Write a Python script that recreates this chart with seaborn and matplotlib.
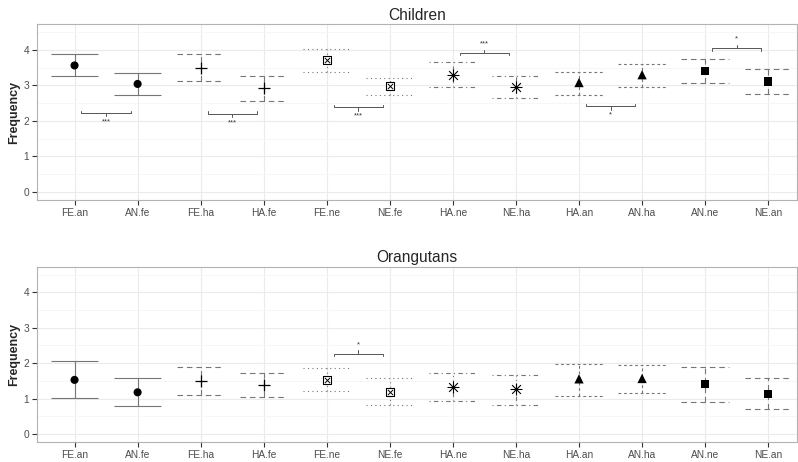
import numpy as np
import pandas as pd
import seaborn as sns
import matplotlib.pyplot as plt

# condition labels along the x axis and the pair each belongs to
categories = ["FE.an", "AN.fe", "FE.ha", "HA.fe", "FE.ne", "NE.fe",
              "HA.ne", "NE.ha", "HA.an", "AN.ha", "AN.ne", "NE.an"]
pairs = ["FE-AN", "FE-AN", "FE-HA", "FE-HA", "FE-NE", "FE-NE",
         "HA-NE", "HA-NE", "HA-AN", "HA-AN", "AN-NE", "AN-NE"]

# children: mean and interval bounds
children_mean = [3.56, 3.04, 3.50, 2.92, 3.70, 2.97, 3.30, 2.95, 3.08, 3.30, 3.41, 3.11]
children_low = [3.25, 2.74, 3.13, 2.56, 3.38, 2.73, 2.94, 2.64, 2.72, 2.94, 3.07, 2.76]
children_high = [3.87, 3.35, 3.89, 3.27, 4.03, 3.22, 3.66, 3.27, 3.38, 3.59, 3.73, 3.45]

# orangutans: mean and interval bounds
orang_mean = [1.53, 1.18, 1.49, 1.40, 1.54, 1.19, 1.32, 1.26, 1.56, 1.57, 1.41, 1.14]
orang_low = [1.01, 0.78, 1.10, 1.06, 1.21, 0.83, 0.93, 0.83, 1.08, 1.16, 0.92, 0.70]
orang_high = [2.06, 1.59, 1.89, 1.73, 1.87, 1.58, 1.72, 1.68, 1.97, 1.94, 1.89, 1.58]

# significance brackets: (first, second, height, label, side of label)
children_tests = [(0, 1, 2.22, "***", "below"),
                  (2, 3, 2.20, "***", "below"),
                  (4, 5, 2.38, "***", "below"),
                  (6, 7, 3.91, "***", "above"),
                  (8, 9, 2.41, "*", "below"),
                  (10, 11, 4.05, "*", "above")]
orang_tests = [(4, 5, 2.27, "*", "above")]

pair_dash = {"FE-AN": "-",
             "FE-HA": (0, (5, 3.5)),
             "FE-NE": (0, (1, 3)),
             "HA-NE": (0, (1, 3, 4, 3)),
             "HA-AN": (0, (2.5, 2.5)),
             "AN-NE": (0, (5, 3.5))}

sns.set_theme(style="whitegrid")
plt.rcParams["font.family"] = ["Liberation Sans", "DejaVu Sans"]

bar_col = "#767676"


def draw_marker(ax, sub, pair):
    kw = dict(data=sub, x="pos", y="mean", ax=ax, legend=False, zorder=4)
    if pair == "FE-AN":
        sns.scatterplot(marker="o", s=34, color="black", edgecolor="none", **kw)
    elif pair == "FE-HA":
        sns.scatterplot(marker="+", s=70, color="black", linewidth=0.9, **kw)
    elif pair == "FE-NE":
        sns.scatterplot(marker="s", s=30, facecolor="white", edgecolor="black",
                        linewidth=0.8, **kw)
        sns.scatterplot(marker="x", s=14, color="black", linewidth=0.7, **kw)
    elif pair == "HA-NE":
        sns.scatterplot(marker="+", s=75, color="black", linewidth=0.8, **kw)
        sns.scatterplot(marker="x", s=40, color="black", linewidth=0.8, **kw)
    elif pair == "HA-AN":
        sns.scatterplot(marker="^", s=45, color="black", edgecolor="none", **kw)
    else:
        sns.scatterplot(marker="s", s=34, color="black", edgecolor="none", **kw)


def draw_panel(ax, title, mean, low, high, tests):
    df = pd.DataFrame({"pos": np.arange(len(categories)), "cond": categories,
                       "pair": pairs, "mean": mean, "low": low, "high": high})
    cap = 0.375
    for pair, sub in df.groupby("pair", sort=False):
        ls = pair_dash[pair]
        ax.vlines(sub["pos"], sub["low"], sub["high"], colors=bar_col,
                  linestyles=[ls], linewidth=0.8, zorder=3)
        for y in ("low", "high"):
            ax.hlines(sub[y], sub["pos"] - cap, sub["pos"] + cap, colors=bar_col,
                      linestyles=[ls], linewidth=0.8, zorder=3)
        draw_marker(ax, sub, pair)

    for a, b, h, lab, side in tests:
        x0, x1 = a + 0.11, b - 0.11
        sgn = 1 if side == "below" else -1
        arm = 0.07
        ax.plot([x0, x0, x1, x1], [h + sgn * arm, h, h, h + sgn * arm],
                color="#555555", lw=0.7, zorder=3)
        xm = (a + b) / 2
        ax.plot([xm, xm], [h, h - sgn * 0.09], color="#555555", lw=0.7, zorder=3)
        ax.text(xm, h - sgn * 0.25, lab, ha="center", va="center",
                fontsize=5.5, color="#333333")

    ax.set_xlim(-0.6, 11.46)
    ax.set_ylim(-0.225, 4.725)
    ax.set_xticks(df["pos"])
    ax.set_xticklabels(categories)
    ax.set_yticks([0, 1, 2, 3, 4])
    ax.set_yticks(np.arange(0.5, 4.6, 1.0), minor=True)
    ax.grid(True, which="major", color="#ebebeb", lw=0.8)
    ax.grid(True, which="minor", axis="y", color="#f5f5f5", lw=0.6)
    ax.set_axisbelow(True)
    ax.tick_params(axis="both", which="major", length=3.5, width=0.8,
                   color="#333333", labelcolor="#4d4d4d", labelsize=7.3, pad=2,
                   bottom=True, left=True)
    ax.tick_params(which="minor", length=0)
    for sp in ax.spines.values():
        sp.set_color("#b3b3b3")
        sp.set_linewidth(0.8)
    ax.set_xlabel("")
    ax.set_ylabel("Frequency", fontsize=9, fontweight="bold", labelpad=2)
    ax.set_title(title, fontsize=11.2, pad=3)


fig = plt.figure(figsize=(7.98, 4.62), dpi=100)
ax_top = fig.add_axes([0.046, 0.567, 0.953, 0.381])
ax_bot = fig.add_axes([0.046, 0.043, 0.953, 0.380])

draw_panel(ax_top, "Children", children_mean, children_low, children_high, children_tests)
draw_panel(ax_bot, "Orangutans", orang_mean, orang_low, orang_high, orang_tests)

fig.savefig("out.png", dpi=100)
